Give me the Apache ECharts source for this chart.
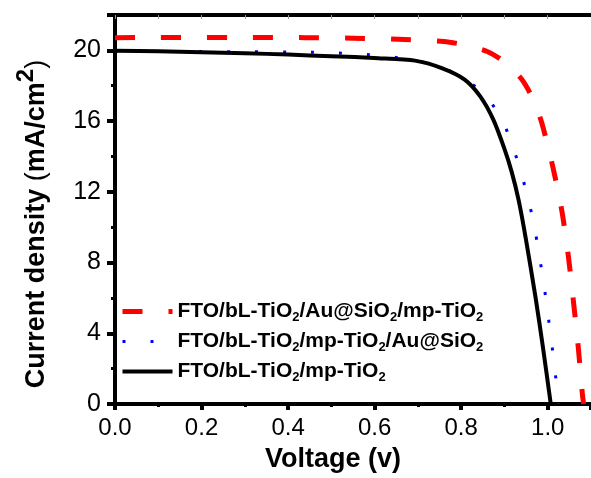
<!DOCTYPE html>
<html>
<head>
<meta charset="utf-8">
<script src="https://cdn.jsdelivr.net/npm/echarts@6/dist/echarts.min.js"></script>
<style>
html,body{margin:0;padding:0;background:#fff;}
#chart{width:591px;height:478px;}
</style>
</head>
<body>
<div id="chart"></div>
<script>
// ---- data ----
var seriesNames = [
  'FTO/bL-TiO2/Au@SiO2/mp-TiO2',
  'FTO/bL-TiO2/mp-TiO2/Au@SiO2',
  'FTO/bL-TiO2/mp-TiO2'
];
var redVoltage = [0, 0.1, 0.2, 0.3, 0.44, 0.55, 0.654, 0.76, 0.81, 0.86, 0.9, 0.939, 0.965, 0.986, 1.012, 1.033, 1.048, 1.06, 1.071, 1.08, 1.083];
var redCurrent = [20.72, 20.73, 20.73, 20.73, 20.72, 20.69, 20.63, 20.5, 20.3, 19.94, 19.35, 18.39, 17.3, 15.92, 13.39, 10.87, 8.29, 5.67, 3.1, 0.58, 0];
var blueVoltage = [0, 0.1, 0.2, 0.3, 0.437, 0.502, 0.567, 0.63, 0.692, 0.755, 0.808, 0.854, 0.893, 0.918, 0.937, 0.954, 0.968, 0.979, 0.989, 0.998, 1.006, 1.014, 1.021, 1.025];
var blueCurrent = [19.95, 19.94, 19.93, 19.92, 19.9, 19.86, 19.8, 19.66, 19.43, 19.06, 18.38, 17.51, 16.14, 14.66, 13.19, 11.69, 10.17, 8.62, 7.09, 5.56, 4.02, 2.49, 0.95, 0];
var blackVoltage = [0, 0.1, 0.2, 0.3, 0.4, 0.5, 0.609, 0.693, 0.755, 0.808, 0.844, 0.874, 0.899, 0.917, 0.933, 0.949, 0.972, 0.989, 1.007];
var blackCurrent = [19.98, 19.95, 19.9, 19.84, 19.76, 19.67, 19.56, 19.42, 19.0, 18.35, 17.4, 16.1, 14.5, 13.1, 11.5, 9.4, 6.0, 3.2, 0];
var xTicks = [0, 0.2, 0.4, 0.6, 0.8, 1.0];
var yTicks = [0, 4, 8, 12, 16, 20];

function pairs(xs, ys) { return xs.map(function (x, i) { return [x, ys[i]]; }); }

var FONT = '"Liberation Sans", Arial, sans-serif';
var chart = echarts.init(document.getElementById('chart'), null, {renderer: 'canvas'});

function legendLabel(name) {
  var parts = name.split('O2');
  return parts.map(function (p, i) {
    return '{t|' + p + (i < parts.length - 1 ? 'O' : '') + '}' + (i < parts.length - 1 ? '{s|2}' : '');
  }).join('');
}

var legendLines = [
  {width: 5, type: [20, 26], color: '#ff0000'},
  {width: 3, type: [3, 25], color: '#0000ff'},
  {width: 4, type: 'solid', color: '#000000'}
];

var option = {
  backgroundColor: '#ffffff',
  animation: false,
  grid: {left: 115, top: 15, width: 478.5, height: 392},
  legend: {
    orient: 'vertical',
    left: 120,
    top: 301,
    padding: 0,
    itemWidth: 50,
    itemHeight: 14,
    itemGap: 7.5,
    itemStyle: {opacity: 0},
    data: seriesNames.map(function (n, i) { return {name: n, lineStyle: legendLines[i]}; }),
    formatter: legendLabel,
    textStyle: {
      fontFamily: FONT,
      rich: {
        t: {fontSize: 21, fontWeight: 'bold', color: '#000', lineHeight: 24, fontFamily: FONT},
        s: {fontSize: 13, fontWeight: 'bold', color: '#000', lineHeight: 12, verticalAlign: 'bottom', fontFamily: FONT}
      }
    }
  },
  graphic: [{
    type: 'text',
    x: 37,
    y: 224,
    rotation: Math.PI / 2,
    silent: true,
    style: {
      text: '{b|Current density }{p|(}{b|mA/cm}{sup|2}{p|)}',
      align: 'center',
      verticalAlign: 'middle',
      rich: {
        b: {fontFamily: FONT, fontSize: 27, fontWeight: 'bold', fill: '#000', lineHeight: 46},
        p: {fontFamily: FONT, fontSize: 27, fontWeight: 'normal', fill: '#000', lineHeight: 46},
        sup: {fontFamily: FONT, fontSize: 24, fontWeight: 'bold', fill: '#000', lineHeight: 23, verticalAlign: 'top'}
      }
    }
  }],
  xAxis: [{
    type: 'value',
    min: 0, max: 1.1, interval: 0.2,
    name: 'Voltage (v)',
    nameLocation: 'middle',
    nameGap: 42,
    nameTextStyle: {fontFamily: FONT, fontSize: 27, fontWeight: 'bold', color: '#000', padding: [0, 40, 0, 0]},
    axisLine: {onZero: false, lineStyle: {color: '#000', width: 4}},
    axisTick: {inside: false, length: 6, lineStyle: {color: '#000', width: 4}},
    minorTick: {show: true, splitNumber: 2, length: 3, lineStyle: {color: '#000', width: 3}},
    axisLabel: {
      margin: 12, fontFamily: FONT, fontSize: 24, color: '#000',
      showMaxLabel: false,
      formatter: function (v) { return xTicks.indexOf(Math.round(v * 10) / 10) >= 0 ? v.toFixed(1) : ''; }
    },
    splitLine: {show: false}
  }, {
    type: 'value',
    position: 'top',
    min: 0, max: 1.1, interval: 0.1,
    axisLine: {show: true, onZero: false, lineStyle: {color: '#000', width: 4}},
    axisTick: {show: true, inside: true, length: 4, lineStyle: {color: '#999', width: 1}},
    axisLabel: {show: false},
    splitLine: {show: false}
  }],
  yAxis: {
    type: 'value',
    min: 0, max: 22, interval: 4,
    axisLine: {onZero: false, lineStyle: {color: '#000', width: 4}},
    axisTick: {inside: false, length: 8, lineStyle: {color: '#000', width: 4}},
    minorTick: {show: true, splitNumber: 2, length: 4, lineStyle: {color: '#000', width: 3}},
    axisLabel: {
      margin: 14, fontFamily: FONT, fontSize: 25, color: '#000',
      showMaxLabel: false,
      formatter: function (v) { return yTicks.indexOf(v) >= 0 ? String(v) : ''; }
    },
    splitLine: {show: false}
  },
  series: [{
    name: seriesNames[0],
    type: 'line',
    data: pairs(redVoltage, redCurrent),
    symbol: 'none',
    smooth: 0.25,
    color: '#ff0000',
    lineStyle: {color: '#ff0000', width: 5, type: [20, 26]},
    z: 3
  }, {
    name: seriesNames[1],
    type: 'line',
    data: pairs(blueVoltage, blueCurrent),
    symbol: 'none',
    smooth: 0.25,
    color: '#0000ff',
    lineStyle: {color: '#0000ff', width: 3, type: [3, 25]},
    z: 2
  }, {
    name: seriesNames[2],
    type: 'line',
    data: pairs(blackVoltage, blackCurrent),
    symbol: 'none',
    smooth: 0.25,
    color: '#000000',
    lineStyle: {color: '#000000', width: 4, type: 'solid'},
    z: 4
  }]
};
chart.setOption(option);
</script>
</body>
</html>
